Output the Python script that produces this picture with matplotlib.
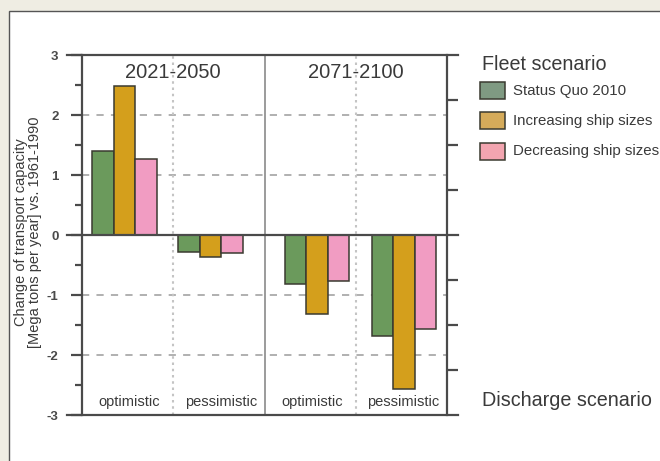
import matplotlib.pyplot as plt
import matplotlib.patches as mpatches
import numpy as np

plt.rcParams['font.family'] = ['Liberation Sans', 'DejaVu Sans']

# data
periods = ['2021-2050', '2071-2100']
discharge = ['optimistic', 'pessimistic', 'optimistic', 'pessimistic']
fleet = ['Status Quo 2010', 'Increasing ship sizes', 'Decreasing ship sizes']
status_quo = [1.40, -0.29, -0.81, -1.68]
increasing = [2.48, -0.36, -1.32, -2.57]
decreasing = [1.26, -0.30, -0.76, -1.57]

bar_colors = ['#6b9a5c', '#d49f1c', '#f19cc2']
legend_colors = ['#7f9a82', '#d5ab5a', '#f3a5b0']
text_col = '#3a3a3a'

fig = plt.figure(figsize=(6.6, 4.61), dpi=100)
fig.patch.set_facecolor('#efede3')
W, H = 660, 461

def fx(px):
    return px / W

def fy(py):
    return 1 - py / H

# white panel
fig.patches.append(mpatches.Rectangle((fx(9), fy(470)), fx(700), fy(11) - fy(470),
                                      transform=fig.transFigure, facecolor='white',
                                      edgecolor='#555555', lw=1.0, zorder=-10))

ax = fig.add_axes([fx(82), fy(415), fx(447) - fx(82), fy(55) - fy(415)])
ax.set_xlim(0, 4)
ax.set_ylim(-3, 3)
ax.patch.set_alpha(0)

# bars
centers = np.array([0.466, 1.408, 2.575, 3.529])
bw = 0.237
for k, vals in enumerate([status_quo, increasing, decreasing]):
    ax.bar(centers + (k - 1) * bw, vals, bw, color=bar_colors[k],
           edgecolor='#3a3a30', linewidth=1.1, zorder=3)

# grid
for yv in [-2, -1, 1, 2]:
    ax.axhline(yv, color='#aaaaaa', lw=1.3, ls=(0, (4, 4)), zorder=1)
for xv in [1, 3]:
    ax.axvline(xv, color='#c4c4c4', lw=1.5, ls=(0, (1.2, 1.8)), zorder=1)
ax.axvline(2, color='#8a8a8a', lw=1.2, zorder=1)

# long horizontal lines at 3, 0, -3
for yv in [3, 0, -3]:
    ax.axhline(yv, xmin=-0.041, xmax=1.030, color='#4a4a4a', lw=1.6,
               clip_on=False, zorder=4)

for s in ['top', 'bottom']:
    ax.spines[s].set_visible(False)
for s in ['left', 'right']:
    ax.spines[s].set_color('#4a4a4a')
    ax.spines[s].set_linewidth(1.6)

ax.set_xticks([])
ax.set_yticks([-3, -2, -1, 0, 1, 2, 3])
ax.set_yticklabels(['-3', '-2', '-1', '0', '1', '2', '3'], fontweight='bold')
ax.set_yticks([-2.5, -1.5, -0.5, 0.5, 1.5, 2.5], minor=True)
ax.tick_params(axis='y', which='major', length=8, width=1.6, color='#4a4a4a',
               labelsize=9.5, labelcolor='#4a4a4a', pad=9)
ax.tick_params(axis='y', which='minor', length=5, width=1.6, color='#4a4a4a')

# right axis ticks
ax2 = ax.twinx()
ax2.set_ylim(-3, 3)
ax2.set_yticks([-2.25, -1.5, -0.75, 0.75, 1.5, 2.25])
ax2.set_yticklabels([])
ax2.tick_params(axis='y', length=8, width=1.6, color='#4a4a4a')
for s in ax2.spines.values():
    s.set_visible(False)

# texts
ax.text(1.0, 2.7, periods[0], ha='center', va='center', fontsize=14.5, color=text_col)
ax.text(3.0, 2.7, periods[1], ha='center', va='center', fontsize=14.5, color=text_col)
for i, lab in enumerate(discharge):
    ax.text(i + 0.52, -2.79, lab, ha='center', va='center', fontsize=10.5, color=text_col)

fig.text(fx(21), fy(232), 'Change of transport capacity', rotation=90,
         ha='center', va='center', fontsize=10.5, color=text_col)
fig.text(fx(35), fy(232), '[Mega tons per year] vs. 1961-1990', rotation=90,
         ha='center', va='center', fontsize=10.5, color=text_col)

# legend
fig.text(fx(482), fy(65), 'Fleet scenario', ha='left', va='center', fontsize=14.2, color=text_col)
for k, (lab, ys) in enumerate(zip(fleet, [91, 120.5, 151])):
    fig.patches.append(mpatches.Rectangle((fx(480), fy(ys + 8.5)), fx(25), fy(0) - fy(17),
                                          transform=fig.transFigure, facecolor=legend_colors[k],
                                          edgecolor='#3a3a30', lw=1.1))
    fig.text(fx(513), fy(ys), lab, ha='left', va='center', fontsize=10.8, color=text_col)

fig.text(fx(482), fy(400), 'Discharge scenario', ha='left', va='center', fontsize=14.2, color=text_col)

fig.savefig('out.png', dpi=100, facecolor=fig.get_facecolor())
